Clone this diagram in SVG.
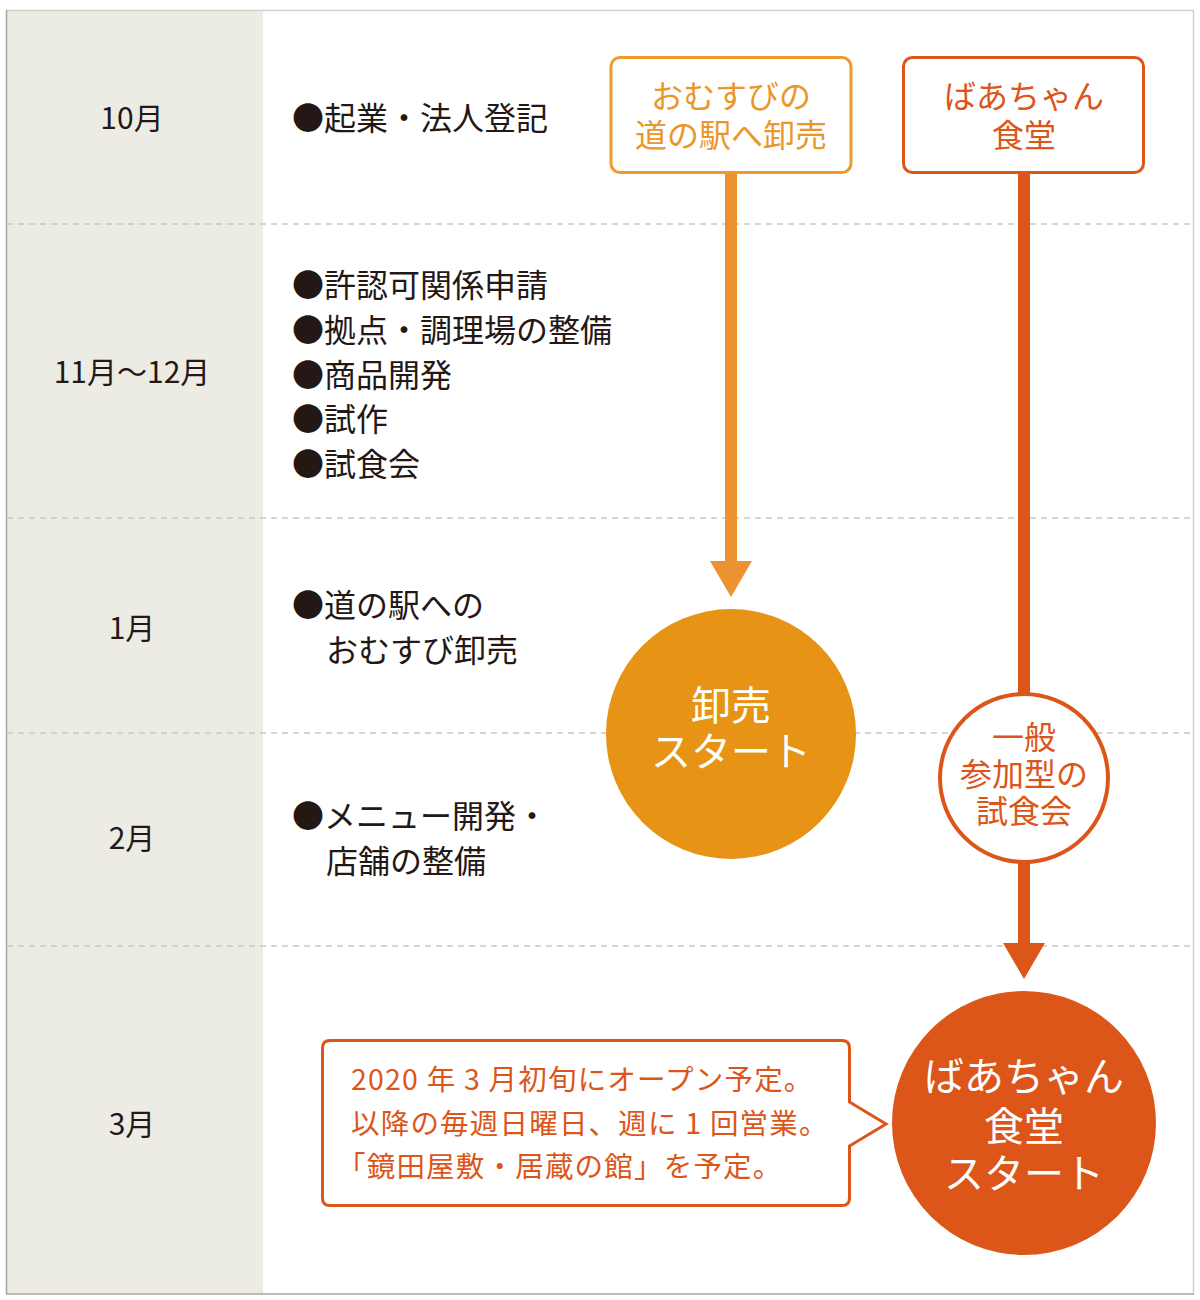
<svg xmlns="http://www.w3.org/2000/svg" width="1200" height="1300" viewBox="0 0 1200 1300">
<defs>
<style>
text{font-family:"Noto Sans CJK JP","Noto Sans",sans-serif;}
.month{font-size:30px;fill:#231815;text-anchor:middle;}
.item{font-size:32px;fill:#231815;}
.dash{stroke:#cbc7c1;stroke-width:1.5;stroke-dasharray:6 5;fill:none;}
.otext{font-size:32px;fill:#eb9629;text-anchor:middle;}
.rtext{font-size:32px;fill:#dc5519;text-anchor:middle;}
.wtext{fill:#ffffff;text-anchor:middle;}
.btext{font-size:28.5px;fill:#dc5519;letter-spacing:1.2px;}
</style>
</defs>
<rect x="0" y="0" width="1200" height="1300" fill="#ffffff"/>
<g id="background">
<rect x="6.5" y="10.5" width="256.5" height="1283" fill="#edece4"/>
<line x1="6" y1="10.5" x2="1193.5" y2="10.5" stroke="#d2cec8" stroke-width="1.5"/>
<line x1="1193.5" y1="10" x2="1193.5" y2="1294" stroke="#d2cec8" stroke-width="1.5"/>
<line x1="6.5" y1="10" x2="6.5" y2="1294" stroke="#a9a398" stroke-width="1.5"/>
<line x1="6" y1="1294" x2="1194" y2="1294" stroke="#a9a398" stroke-width="1.5"/>
<line class="dash" x1="7" y1="224" x2="1193" y2="224"/>
<line class="dash" x1="7" y1="518" x2="1193" y2="518"/>
<line class="dash" x1="7" y1="733" x2="1193" y2="733"/>
<line class="dash" x1="7" y1="946" x2="1193" y2="946"/>
</g>
<g id="months">
<text class="month" x="132" y="129">10月</text>
<text class="month" x="132" y="383">11月〜12月</text>
<text class="month" x="132" y="639">1月</text>
<text class="month" x="132" y="849">2月</text>
<text class="month" x="132" y="1135">3月</text>
</g>
<g id="items">
<text class="item" x="292" y="130">●起業・法人登記</text>
<text class="item" x="292" y="297">●許認可関係申請</text>
<text class="item" x="292" y="342">●拠点・調理場の整備</text>
<text class="item" x="292" y="387">●商品開発</text>
<text class="item" x="292" y="431">●試作</text>
<text class="item" x="292" y="476">●試食会</text>
<text class="item" x="292" y="617">●道の駅への</text>
<text class="item" x="326" y="662">おむすび卸売</text>
<text class="item" x="292" y="828">●メニュー開発・</text>
<text class="item" x="326" y="873">店舗の整備</text>
</g>
<g id="connectors">
<rect x="725" y="173" width="12" height="390" fill="#ed9230"/>
<polygon points="710,561 752,561 731,597" fill="#ed9230"/>
<rect x="1018" y="173" width="12" height="522" fill="#dc5519"/>
<rect x="1018" y="861" width="12" height="84" fill="#dc5519"/>
<polygon points="1003,943 1045,943 1024,979" fill="#dc5519"/>
</g>
<g id="node-omusubi">
<rect x="611" y="57.5" width="240" height="115" rx="9" fill="#ffffff" stroke="#ee9a2c" stroke-width="3"/>
<text class="otext" x="731" y="108">おむすびの</text>
<text class="otext" x="731" y="147">道の駅へ卸売</text>
</g>
<g id="node-baachan">
<rect x="903.5" y="57.5" width="240" height="115" rx="9" fill="#ffffff" stroke="#dc5519" stroke-width="3"/>
<text class="rtext" x="1024" y="108">ばあちゃん</text>
<text class="rtext" x="1024" y="147">食堂</text>
</g>
<g id="node-oroshi-start">
<circle cx="731" cy="734" r="125" fill="#e69316"/>
<text class="wtext" x="731" y="720" font-size="40">卸売</text>
<text class="wtext" x="731" y="766" font-size="40">スタート</text>
</g>
<g id="node-shishokukai">
<circle cx="1024" cy="778" r="84" fill="#ffffff" stroke="#dc5519" stroke-width="4"/>
<text class="rtext" x="1024" y="749">一般</text>
<text class="rtext" x="1024" y="786">参加型の</text>
<text class="rtext" x="1024" y="823">試食会</text>
</g>
<g id="node-shokudo-start">
<circle cx="1024" cy="1123" r="132" fill="#dc5519"/>
<text class="wtext" x="1024" y="1091" font-size="40">ばあちゃん</text>
<text class="wtext" x="1024" y="1141" font-size="40">食堂</text>
<text class="wtext" x="1024" y="1188" font-size="40">スタート</text>
</g>
<g id="node-note">
<path d="M330,1040.5 H842 Q849.5,1040.5 849.5,1048 V1102 L886,1124 L849.5,1146 V1198 Q849.5,1205.5 842,1205.5 H330 Q322.5,1205.5 322.5,1198 V1048 Q322.5,1040.5 330,1040.5 Z" fill="#ffffff" stroke="#dc5519" stroke-width="3" stroke-linejoin="miter"/>
<text class="btext" x="351" y="1090">2020 年 3 月初旬にオープン予定。</text>
<text class="btext" x="351" y="1134">以降の毎週日曜日、週に 1 回営業。</text>
<text class="btext" x="337" y="1177">「鏡田屋敷・居蔵の館」を予定。</text>
</g>
</svg>
